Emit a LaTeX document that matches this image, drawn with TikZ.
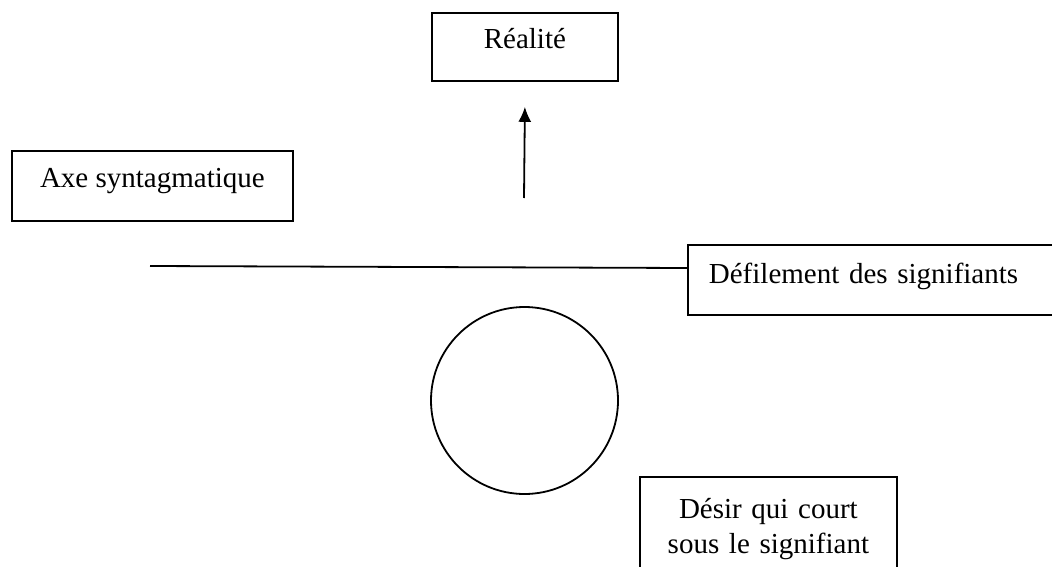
\documentclass[tikz,border=0pt]{standalone}
\usepackage{fontspec}
\setmainfont{Liberation Serif}
\usetikzlibrary{arrows.meta}

\tikzset{boite/.style={draw, inner sep=0pt, anchor=north west, font=\fontsize{29}{35}\selectfont}}

\begin{document}
\begin{tikzpicture}[x=1pt,y=-1pt,line width=1.8pt]
    \clip (0,0) rectangle (1052,567);

    % Cadres
    \node[boite, minimum width=186pt, text height=36pt, text depth=32pt] (realite) at (431,12) {Réalité};
    \node[boite, minimum width=281pt, text height=37pt, text depth=33pt] (axe) at (11,150) {Axe syntagmatique};
    \node[boite, text width=400pt, inner xsep=21pt, align=left, text height=39pt, text depth=31pt] (defile) at (687,244) {Défilement des signifiants};
    \node[boite, text width=257pt, align=center, text height=42pt, text depth=100pt] (desir) at (639,476) {Désir qui court\\sous le signifiant};

    % Cercle
    \node[draw, circle, minimum size=187pt, inner sep=0pt] (cercle) at (524.5,400.5) {};

    % Ligne et flèche
    \coordinate (debut) at (150,266);
    \coordinate (base) at (524,198);
    \draw (debut) -- ([yshift=-24pt]defile.north west);
    \draw[-{Latex[length=15pt,width=13pt]}] (base) -- ([yshift=-25pt]realite.south);
\end{tikzpicture}
\end{document}
